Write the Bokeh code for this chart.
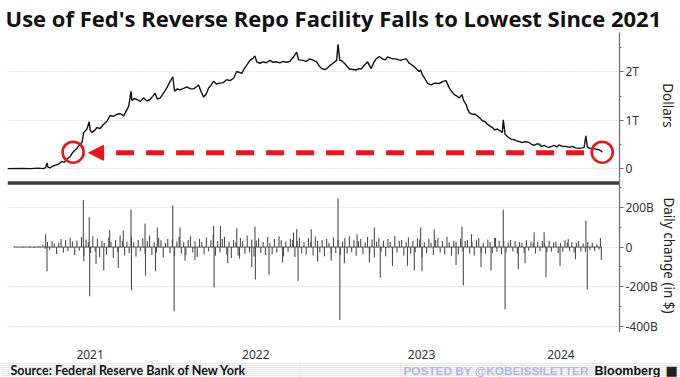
import numpy as np
import pandas as pd
from bokeh.plotting import figure
from bokeh.layouts import column
from bokeh.models import (Range1d, FixedTicker, DatetimeTickFormatter, CustomJSTickFormatter,
                          Arrow, NormalHead, Label)
from bokeh.embed import file_html
from bokeh.resources import INLINE

TITLE = "Use of Fed's Reverse Repo Facility Falls to Lowest Since 2021"
SOURCE = "Source: Federal Reserve Bank of New York"
POSTED = "POSTED BY @KOBEISSILETTER"
BRAND = "Bloomberg"
TOP_LABEL = "Dollars"
BOTTOM_LABEL = "Daily change (in $)"

# ---------------- level of the facility (trillions of dollars) ----------------
dates21 = ["2021-01-01", "2021-02-01", "2021-02-20", "2021-03-10", "2021-03-21", "2021-03-26",
           "2021-03-29", "2021-03-31", "2021-04-05", "2021-04-10", "2021-04-16", "2021-04-23",
           "2021-05-01", "2021-05-06", "2021-05-12", "2021-05-18", "2021-05-23", "2021-05-28",
           "2021-06-03", "2021-06-09", "2021-06-14", "2021-06-18", "2021-06-22", "2021-06-25",
           "2021-06-30", "2021-07-02", "2021-07-06", "2021-07-12", "2021-07-17", "2021-07-24",
           "2021-08-01", "2021-08-08", "2021-08-15", "2021-08-22", "2021-08-30", "2021-09-06",
           "2021-09-14", "2021-09-20", "2021-09-25", "2021-09-30", "2021-10-02", "2021-10-07",
           "2021-10-13", "2021-10-20", "2021-10-28", "2021-11-04", "2021-11-11", "2021-11-17",
           "2021-11-22", "2021-11-27", "2021-12-03", "2021-12-10", "2021-12-18", "2021-12-25",
           "2021-12-31"]
vals21 = [0.00, 0.005, 0.00, 0.01, 0.00, 0.02,
          0.12, 0.03, 0.014, 0.05, 0.07, 0.09,
          0.15, 0.13, 0.20, 0.24, 0.31, 0.37,
          0.42, 0.50, 0.54, 0.75, 0.79, 0.82,
          0.97, 0.80, 0.75, 0.79, 0.85, 0.83,
          0.92, 0.98, 1.10, 1.08, 1.12, 1.14,
          1.09, 1.20, 1.29, 1.60, 1.41, 1.45,
          1.43, 1.39, 1.46, 1.40, 1.43, 1.50,
          1.56, 1.44, 1.46, 1.55, 1.67, 1.80,
          1.90]

dates22 = ["2022-01-04", "2022-01-10", "2022-01-16", "2022-01-24", "2022-01-31", "2022-02-08",
           "2022-02-15", "2022-02-22", "2022-02-26", "2022-03-03", "2022-03-09", "2022-03-15",
           "2022-03-20", "2022-03-25", "2022-03-31", "2022-04-06", "2022-04-14", "2022-04-21",
           "2022-04-29", "2022-05-06", "2022-05-14", "2022-05-21", "2022-06-01", "2022-06-06",
           "2022-06-12", "2022-06-19", "2022-06-26", "2022-06-30", "2022-07-04", "2022-07-11",
           "2022-07-18", "2022-07-25", "2022-08-02", "2022-08-09", "2022-08-17", "2022-08-24",
           "2022-08-31", "2022-09-08", "2022-09-15", "2022-09-23", "2022-09-30", "2022-10-04",
           "2022-10-14", "2022-10-21", "2022-10-29", "2022-11-06", "2022-11-13", "2022-11-18",
           "2022-11-24", "2022-12-01", "2022-12-05", "2022-12-12", "2022-12-19", "2022-12-27",
           "2022-12-30"]
vals22 = [1.60, 1.65, 1.63, 1.66, 1.69, 1.65,
          1.65, 1.70, 1.73, 1.60, 1.48, 1.55,
          1.67, 1.72, 1.81, 1.75, 1.77, 1.78,
          1.84, 1.82, 1.87, 2.01, 1.97, 2.06,
          2.14, 2.24, 2.28, 2.33, 2.21, 2.18,
          2.21, 2.19, 2.24, 2.20, 2.21, 2.19,
          2.22, 2.20, 2.22, 2.31, 2.41, 2.25,
          2.24, 2.22, 2.27, 2.24, 2.21, 2.13,
          2.07, 2.05, 2.07, 2.13, 2.18, 2.24,
          2.57]

dates23 = ["2023-01-03", "2023-01-06", "2023-01-13", "2023-01-19", "2023-01-24", "2023-02-01",
           "2023-02-08", "2023-02-14", "2023-02-19", "2023-02-26", "2023-03-05", "2023-03-13",
           "2023-03-19", "2023-03-24", "2023-03-31", "2023-04-07", "2023-04-13", "2023-04-18",
           "2023-04-24", "2023-04-29", "2023-05-07", "2023-05-12", "2023-05-18", "2023-05-23",
           "2023-05-29", "2023-06-05", "2023-06-10", "2023-06-16", "2023-06-21", "2023-06-27",
           "2023-06-30", "2023-07-04", "2023-07-10", "2023-07-15", "2023-07-23", "2023-07-28",
           "2023-08-03", "2023-08-10", "2023-08-17", "2023-08-25", "2023-09-01", "2023-09-06",
           "2023-09-12", "2023-09-18", "2023-09-23", "2023-09-29", "2023-10-03", "2023-10-08",
           "2023-10-12", "2023-10-15", "2023-10-22", "2023-10-27", "2023-11-02", "2023-11-08",
           "2023-11-13", "2023-11-19", "2023-11-24", "2023-11-30", "2023-12-05", "2023-12-10",
           "2023-12-16", "2023-12-22", "2023-12-27", "2023-12-29"]
vals23 = [2.24, 2.24, 2.18, 2.12, 2.06, 2.05,
          2.04, 2.07, 2.06, 2.14, 2.21, 2.07,
          2.20, 2.27, 2.32, 2.27, 2.25, 2.31,
          2.29, 2.27, 2.27, 2.25, 2.24, 2.26,
          2.27, 2.18, 2.15, 2.11, 2.06, 2.01,
          2.04, 1.94, 1.85, 1.77, 1.73, 1.76,
          1.77, 1.76, 1.80, 1.82, 1.67, 1.60,
          1.53, 1.50, 1.46, 1.53, 1.40, 1.33,
          1.22, 1.16, 1.12, 1.13, 1.09, 1.04,
          0.99, 0.97, 0.92, 0.88, 0.85, 0.80,
          0.82, 0.78, 0.75, 1.01]

dates24 = ["2024-01-02", "2024-01-08", "2024-01-15", "2024-01-21", "2024-01-26", "2024-02-02",
           "2024-02-09", "2024-02-16", "2024-02-24", "2024-03-01", "2024-03-06", "2024-03-12",
           "2024-03-17", "2024-03-22", "2024-03-28", "2024-04-03", "2024-04-08", "2024-04-14",
           "2024-04-19", "2024-04-25", "2024-04-30", "2024-05-07", "2024-05-15", "2024-05-22",
           "2024-05-29", "2024-06-05", "2024-06-13", "2024-06-20", "2024-06-24", "2024-06-28",
           "2024-07-01", "2024-07-05", "2024-07-10", "2024-07-16", "2024-07-22", "2024-07-27",
           "2024-07-31", "2024-08-03"]
vals24 = [0.71, 0.66, 0.61, 0.60, 0.58, 0.56,
          0.54, 0.56, 0.54, 0.50, 0.48, 0.51,
          0.51, 0.46, 0.48, 0.45, 0.44, 0.46,
          0.48, 0.45, 0.49, 0.46, 0.46, 0.44,
          0.46, 0.43, 0.42, 0.43, 0.44, 0.68,
          0.46, 0.42, 0.42, 0.41, 0.40, 0.39,
          0.37, 0.34]

# ---------------- daily change (billions of dollars) ----------------
# routine moves, one reading every five days from the start date below
routine_start = "2021-03-20"
routine21 = [12, -8, 25, -15, 30, 18, -35, 22, 40, -28, 35, -20, 45, 28, -40, 33, -18, 50, -45, 38,
             25, -30, 55, -22, 42, -50, 30, 20, -38, 48, 26, -55, 35, -25, 60, 32, -42, 28, -30, 52,
             24, -48, 36, -20, 44, -35, 30, 58, -40, 26, -28, 46, 34, -52, 22, 40, -30]
routine22 = [38, -45, 28, 50, -32, 24, -40, 36, 55, -28, 30, -50, 42, 26, -36, 48, -22, 34, 62, -44,
             30, -26, 40, 52, -38, 28, -55, 36, 24, -42, 46, 30, -34, 58, -26, 38, -48, 32, 44, -30,
             26, -40, 50, 22, -36, 40, -28, 54, 34, -46, 28, -24, 42, 36, -50, 30, 48, -32, 26, -38,
             44, 24, -42, 52, 30, -28, 36, -46, 40, 22, -34, 48, -30]
routine23 = [36, -40, 28, 46, -32, 54, -26, 34, -44, 30, 42, -36, 24, 50, -30, 38, -52, 28, 44, -24,
             32, -46, 40, 26, -38, 56, -28, 30, 36, -42, 24, 48, -34, 30, -26, 44, 38, -50, 26, -30,
             42, 22, -40, 34, 46, -28, 30, -36, 52, 24, -44, 32, 28, -38, 40, -24, 30, 36, -32, 26,
             -42, 34, 44, -28, 22, -34, 38, 26, -30, 46, -24, 32, -36]
routine24 = [30, -28, 24, 36, -22, 30, -34, 26, 20, -30, 34, -18, 28, 22, -32, 26, -20, 30, 18, -26,
             32, -22, 24, 28, -30, 20, -24, 34, 22, -18, 26, -28, 20, 30, -22, 18, -24, 26, -16, 22,
             -20, 14, -12]

# larger individual moves
spike_dates = ["2021-01-15", "2021-02-03", "2021-02-19", "2021-03-01", "2021-03-11",
               "2021-03-26", "2021-03-29", "2021-06-17", "2021-06-18", "2021-06-30", "2021-07-01",
               "2021-07-15", "2021-08-01", "2021-08-14", "2021-09-02", "2021-09-13",
               "2021-09-30", "2021-10-01", "2021-10-31", "2021-11-01", "2021-11-23", "2021-11-27",
               "2021-12-31", "2022-01-03", "2022-01-16", "2022-01-27", "2022-02-18",
               "2022-03-31", "2022-04-01", "2022-04-15", "2022-05-01", "2022-05-21", "2022-05-27",
               "2022-06-23", "2022-06-30", "2022-07-01", "2022-07-31", "2022-08-30", "2022-09-23",
               "2022-09-30", "2022-10-03", "2022-11-01", "2022-11-15", "2022-12-15",
               "2022-12-30", "2023-01-03", "2023-01-13", "2023-02-10", "2023-03-09", "2023-03-20",
               "2023-04-02", "2023-04-29", "2023-06-01", "2023-06-16", "2023-06-30", "2023-07-03",
               "2023-07-30", "2023-09-16", "2023-09-29", "2023-10-02", "2023-10-20", "2023-11-10",
               "2023-12-02", "2023-12-12", "2023-12-29", "2024-01-02", "2024-01-31", "2024-02-15",
               "2024-03-06", "2024-03-28", "2024-04-01", "2024-05-02", "2024-05-20", "2024-06-05",
               "2024-06-28", "2024-07-01", "2024-07-30", "2024-08-01"]
spike_vals = [3, -2, 4, -3, 5,
              65, -122, 237, -73, 150, -248,
              -85, -118, 85, -106, 82,
              188, -217, 118, -144, -122, 98,
              209, -323, 98, -69, -65,
              106, -204, 106, -82, 95, -57,
              -101, 103, -163, -139, -78, 73,
              90, -171, 90, -73, -69,
              245, -367, -82, 65, -78, 98,
              -155, -95, -95, -118, 98, -122,
              90, -90, 103, -193, 65, -101,
              -118, 46, 188, -314, -111, -82,
              74, 74, -152, -95, 40, -62,
              134, -212, 46, -65]

# axis labels
top_ticks = [0, 1, 2]
bottom_ticks = [-400, -200, 0, 200]
year_label_dates = ["2021-07-02", "2022-07-02", "2023-07-02", "2024-05-04"]
year_labels = ["2021", "2022", "2023", "2024"]
x_window = ["2021-01-01", "2024-09-10"]

# ---------------- build ----------------
RED = "#e5191c"
TICK_FONT = "Noto Sans"

level_dates = pd.to_datetime(dates21 + dates22 + dates23 + dates24)
level_vals = np.array(vals21 + vals22 + vals23 + vals24)

routine_vals = routine21 + routine22 + routine23 + routine24
routine_dates = pd.date_range(routine_start, periods=len(routine_vals), freq="5D")
chg_dates = list(routine_dates) + list(pd.to_datetime(spike_dates))
chg_vals = routine_vals + spike_vals

x0, x1 = pd.Timestamp(x_window[0]), pd.Timestamp(x_window[1])
xr = Range1d(x0, x1)


def style_right_axis(ax, label, standoff):
    ax.axis_line_color = "#707070"
    ax.axis_line_width = 1.3
    ax.major_tick_line_color = "#707070"
    ax.minor_tick_line_color = "#707070"
    ax.major_tick_in = 0
    ax.major_tick_out = 4
    ax.minor_tick_in = 0
    ax.minor_tick_out = 2
    ax.major_label_text_font = TICK_FONT
    ax.major_label_text_font_size = "12px"
    ax.major_label_text_color = "#333333"
    ax.major_label_standoff = 2
    ax.axis_label = label
    ax.axis_label_text_font = TICK_FONT
    ax.axis_label_text_font_size = "13.5px"
    ax.axis_label_text_font_style = "normal"
    ax.axis_label_text_color = "#222222"
    ax.axis_label_standoff = standoff


# top panel
p1 = figure(width=680, height=178, x_range=xr, y_range=Range1d(-0.204, 2.816),
            x_axis_type="datetime", x_axis_location=None, y_axis_location="right",
            output_backend="svg", toolbar_location=None,
            min_border_left=7, min_border_right=60, min_border_top=30, min_border_bottom=0,
            title=TITLE)
p1.outline_line_color = None
p1.title.text_font = "Open Sans"
p1.title.text_font_size = "22px"
p1.title.text_font_style = "bold"
p1.title.text_color = "#111111"
p1.title.standoff = 0
p1.title.offset = -2
style_right_axis(p1.yaxis[0], TOP_LABEL, 17)
p1.yaxis[0].ticker = FixedTicker(ticks=top_ticks, minor_ticks=[0.5, 1.5, 2.5])
p1.yaxis[0].formatter = CustomJSTickFormatter(code="return tick == 0 ? '0' : tick + 'T';")
p1.ygrid.ticker = FixedTicker(ticks=top_ticks)
p1.ygrid.grid_line_color = "#c4c4c4"
p1.ygrid.grid_line_dash = "1 2"
for g in p1.xgrid:
    g.visible = False

p1.line(level_dates, level_vals, line_color="#111111", line_width=1.4)

# highlight: latest level and the first time it was reached in 2021
last_date, last_val = level_dates[-1], level_vals[-1]
i = int(np.argmax(level_vals >= last_val))
frac = (last_val - level_vals[i - 1]) / (level_vals[i] - level_vals[i - 1])
cross_date = level_dates[i - 1] + (level_dates[i] - level_dates[i - 1]) * frac
p1.scatter([cross_date, last_date], [last_val, last_val], marker="circle", size=21,
           fill_color=None, line_color=RED, line_width=2.6)
arrow_y = last_val - 0.012
arr = Arrow(x_start=(last_date - pd.Timedelta(days=40)).timestamp() * 1000, y_start=arrow_y,
            x_end=(cross_date + pd.Timedelta(days=34)).timestamp() * 1000, y_end=arrow_y,
            line_color=RED, line_width=5, line_dash="18 12",
            end=NormalHead(size=15, fill_color=RED, line_color=RED, line_width=1))
p1.add_layout(arr)

# bottom panel (its frame also holds the dark divider strip at the very top)
p2 = figure(width=680, height=183, x_range=xr, y_range=Range1d(-430, 345),
            x_axis_type="datetime", y_axis_location="right",
            output_backend="svg", toolbar_location=None,
            min_border_left=7, min_border_right=60, min_border_top=0, min_border_bottom=28)
p2.outline_line_color = None
style_right_axis(p2.yaxis[0], BOTTOM_LABEL, -1)
p2.yaxis[0].ticker = FixedTicker(ticks=bottom_ticks, minor_ticks=[-300, -100, 100, 300])
p2.yaxis[0].formatter = CustomJSTickFormatter(code="return tick == 0 ? '0' : tick + 'B';")
p2.ygrid.ticker = FixedTicker(ticks=bottom_ticks)
p2.ygrid.grid_line_color = "#c4c4c4"
p2.ygrid.grid_line_dash = "1 2"
p2.xgrid.visible = False

# divider strip
p2.quad(left=[x0], right=[x1], bottom=[313], top=[331], fill_color="#3c3c3c", line_color=None)

xa = p2.xaxis[0]
xa.ticker = FixedTicker(ticks=[pd.Timestamp(d).timestamp() * 1000 for d in year_label_dates])
fmt = "%Y"
xa.formatter = DatetimeTickFormatter(years=fmt, months=fmt, days=fmt, hours=fmt, minutes=fmt,
                                     seconds=fmt, milliseconds=fmt, microseconds=fmt,
                                     hourmin=fmt, minsec=fmt)
xa.axis_line_color = None
xa.major_tick_line_color = None
xa.minor_tick_line_color = None
xa.major_label_text_font = TICK_FONT
xa.major_label_text_font_size = "12px"
xa.major_label_text_color = "#333333"
xa.major_label_standoff = 11

p2.line([min(chg_dates), max(chg_dates)], [0, 0], line_color="#555555", line_width=1)
p2.segment(x0=chg_dates, y0=0, x1=chg_dates, y1=chg_vals, line_color="#4d4d4d", line_width=1.1)

# footer strip (its own frame covers the whole width)
foot = figure(width=680, height=16, x_range=Range1d(0, 680), y_range=Range1d(0, 16),
              x_axis_location=None, y_axis_location=None, output_backend="svg",
              toolbar_location=None, min_border_left=0, min_border_right=0,
              min_border_top=0, min_border_bottom=0)
foot.frame_align = False
foot.outline_line_color = None
foot.add_layout(Label(x=10, y=7, text=SOURCE, text_baseline="middle", text_font="Lato",
                      text_font_style="bold", text_font_size="12.5px", text_color="#111111"))
foot.add_layout(Label(x=403, y=7, text=POSTED, text_baseline="middle",
                      text_font="Liberation Sans", text_font_style="bold",
                      text_font_size="11.8px", text_color="#a9b8ea"))
foot.add_layout(Label(x=594, y=7, text=BRAND, text_baseline="middle",
                      text_font="Liberation Sans", text_font_style="bold",
                      text_font_size="12.5px", text_color="#111111"))
foot.add_layout(Label(x=665, y=7, text="\u25a0", text_baseline="middle",
                      text_font="DejaVu Sans", text_font_size="13px", text_color="#222222"))

layout = column(p1, p2, foot)

open("out.html", "w").write(file_html(layout, INLINE))
